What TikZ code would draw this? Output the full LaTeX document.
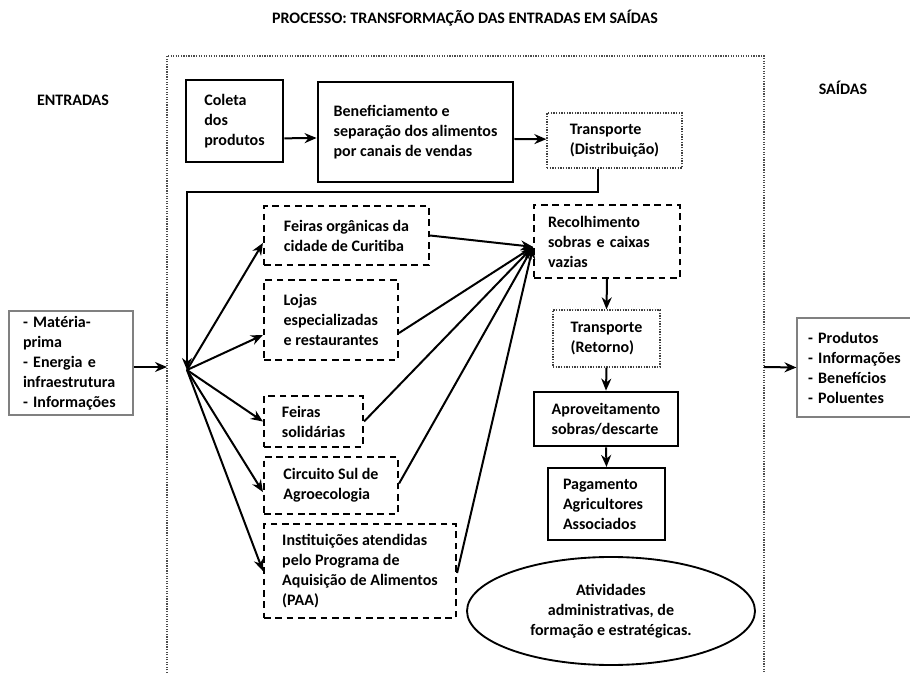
\documentclass[tikz,border=0pt]{standalone}
\usepackage{fontspec}
\setmainfont{Carlito}
\usetikzlibrary{arrows.meta,shapes.geometric}

\tikzset{
  arr/.style={-{Stealth[length=9pt,width=7.5pt]},line width=1.5pt},
  solidbox/.style={draw,line width=2.1pt,align=left},
  dashbox/.style={draw,line width=1.6pt,dash pattern=on 5pt off 3.5pt,align=left},
  dotbox/.style={draw=black!75,line width=1pt,densely dotted,align=left},
  greybox/.style={draw=black!50,line width=0.8pt,align=left},
}

\begin{document}
\begin{tikzpicture}[x=0.75pt,y=-0.75pt,font=\fontsize{12}{15}\selectfont\bfseries]
      \useasboundingbox (0,0) rectangle (910,673);

      % frame of the process
      \draw[black!70,line width=0.9pt,densely dotted] (167,673) |- (764,56) -- (764,673);

      \node (titulo)   at (465,18) {PROCESSO: TRANSFORMAÇÃO DAS ENTRADAS EM SAÍDAS};
      \node (entradas) at (73,100) {ENTRADAS};
      \node (saidas)   at (843,88) {SAÍDAS};

      \begin{scope}[every node/.style={inner xsep=8pt}]
        \node[solidbox,minimum width=72.75pt,minimum height=61.5pt] (coleta) at (234.5,121) {Coleta\\dos\\produtos};
        \node[solidbox,minimum width=146.25pt,minimum height=75pt] (benef) at (415.5,132) {Beneficiamento e\\separação dos alimentos\\por canais de vendas};
        \node[dotbox,minimum width=101.25pt,minimum height=41.25pt] (distrib) at (614.5,140.5) {Transporte\\(Distribuição)};

        \node[dashbox,minimum width=123.75pt,minimum height=44.25pt] (feirasorg) at (346.5,235.5) {Feiras orgânicas da\\cidade de Curitiba};
        \node[dashbox,minimum width=100.5pt,minimum height=60pt] (lojas) at (331,320) {Lojas\\especializadas\\e restaurantes};
        \node[dashbox,minimum width=74.25pt,minimum height=38.25pt] (solidarias) at (313.5,421.5) {Feiras\\solidárias};
        \node[dashbox,minimum width=100.5pt,minimum height=42.75pt] (circuito) at (331,485.5) {Circuito Sul de\\Agroecologia};
        \node[dashbox,minimum width=144pt,minimum height=70.5pt] (instit) at (360,571) {Instituições atendidas\\pelo Programa de\\Aquisição de Alimentos\\(PAA)};

        \node[dashbox,inner xsep=10.5pt,text width=88.5pt,minimum height=54.75pt] (recolh) at (607,241.5) {Recolhimento\\sobras e caixas\\vazias};
        \node[dotbox,minimum width=80.25pt,minimum height=42.75pt] (retorno) at (606.5,338.5) {Transporte\\(Retorno)};
        \node[solidbox,minimum width=108pt,minimum height=40.5pt] (aprov) at (606,419) {Aproveitamento\\sobras/descarte};
        \node[solidbox,line width=1.6pt,inner xsep=11.25pt,text width=65.25pt,minimum height=54pt] (pagam) at (606.5,504) {Pagamento\\Agricultores\\Associados};
        \node[ellipse,draw,line width=1.4pt,align=center,inner sep=0pt,minimum width=216pt,minimum height=81pt] (ativ) at (611,611) {Atividades\\administrativas, de\\formação e estratégicas.};

        \node[greybox,inner xsep=10.5pt,text width=72pt,minimum height=78pt] (insumos) at (71,363) {- Matéria-\\prima\\- Energia e\\infraestrutura\\- Informações};
        \node[greybox,inner xsep=8.25pt,text width=75pt,minimum height=74.25pt] (result) at (858,367.5) {- Produtos\\- Informações\\- Benefícios\\- Poluentes};
      \end{scope}

      \coordinate (fan)  at (187,370);
      \coordinate (bend) at (187,192);
      \coordinate (pin)  at (167,367);
      \coordinate (pout) at (764,367);
      \coordinate (hub)  at ([yshift=-4pt]recolh.west);

      \begin{scope}[every edge/.style={draw,arr}]
        \path ([yshift=-13pt]coleta.east) edge ([yshift=-4.5pt]benef.west);
        \path ([yshift=-5.25pt]benef.east) edge ([yshift=1pt]distrib.west);
        \draw[arr] ([xshift=-12.4pt]distrib.south) |- (bend) -- (fan);

        \path (fan) edge ([yshift=-5.6pt]feirasorg.west);
        \path (fan) edge ([yshift=-11.25pt]lojas.west);
        \path (fan) edge (solidarias.west);
        \path (fan) edge ([yshift=-4.9pt]circuito.west);
        \path (fan) edge (instit.west);

        \path (feirasorg.east) edge (hub);
        \path ([yshift=-9.75pt]lojas.east) edge (hub);
        \path (solidarias.east) edge (hub);
        \path ([yshift=1.5pt]circuito.east) edge (hub);
        \path ([yshift=-1.5pt]instit.east) edge (hub);

        \path (recolh.south) edge (retorno.north);
        \path (retorno.south) edge (aprov.north);
        \path (aprov.south) edge (pagam.north);

        \path ([yshift=-3pt]insumos.east) edge (pin);
        \path (pout) edge (result.west);
      \end{scope}

    \end{tikzpicture}
\end{document}
